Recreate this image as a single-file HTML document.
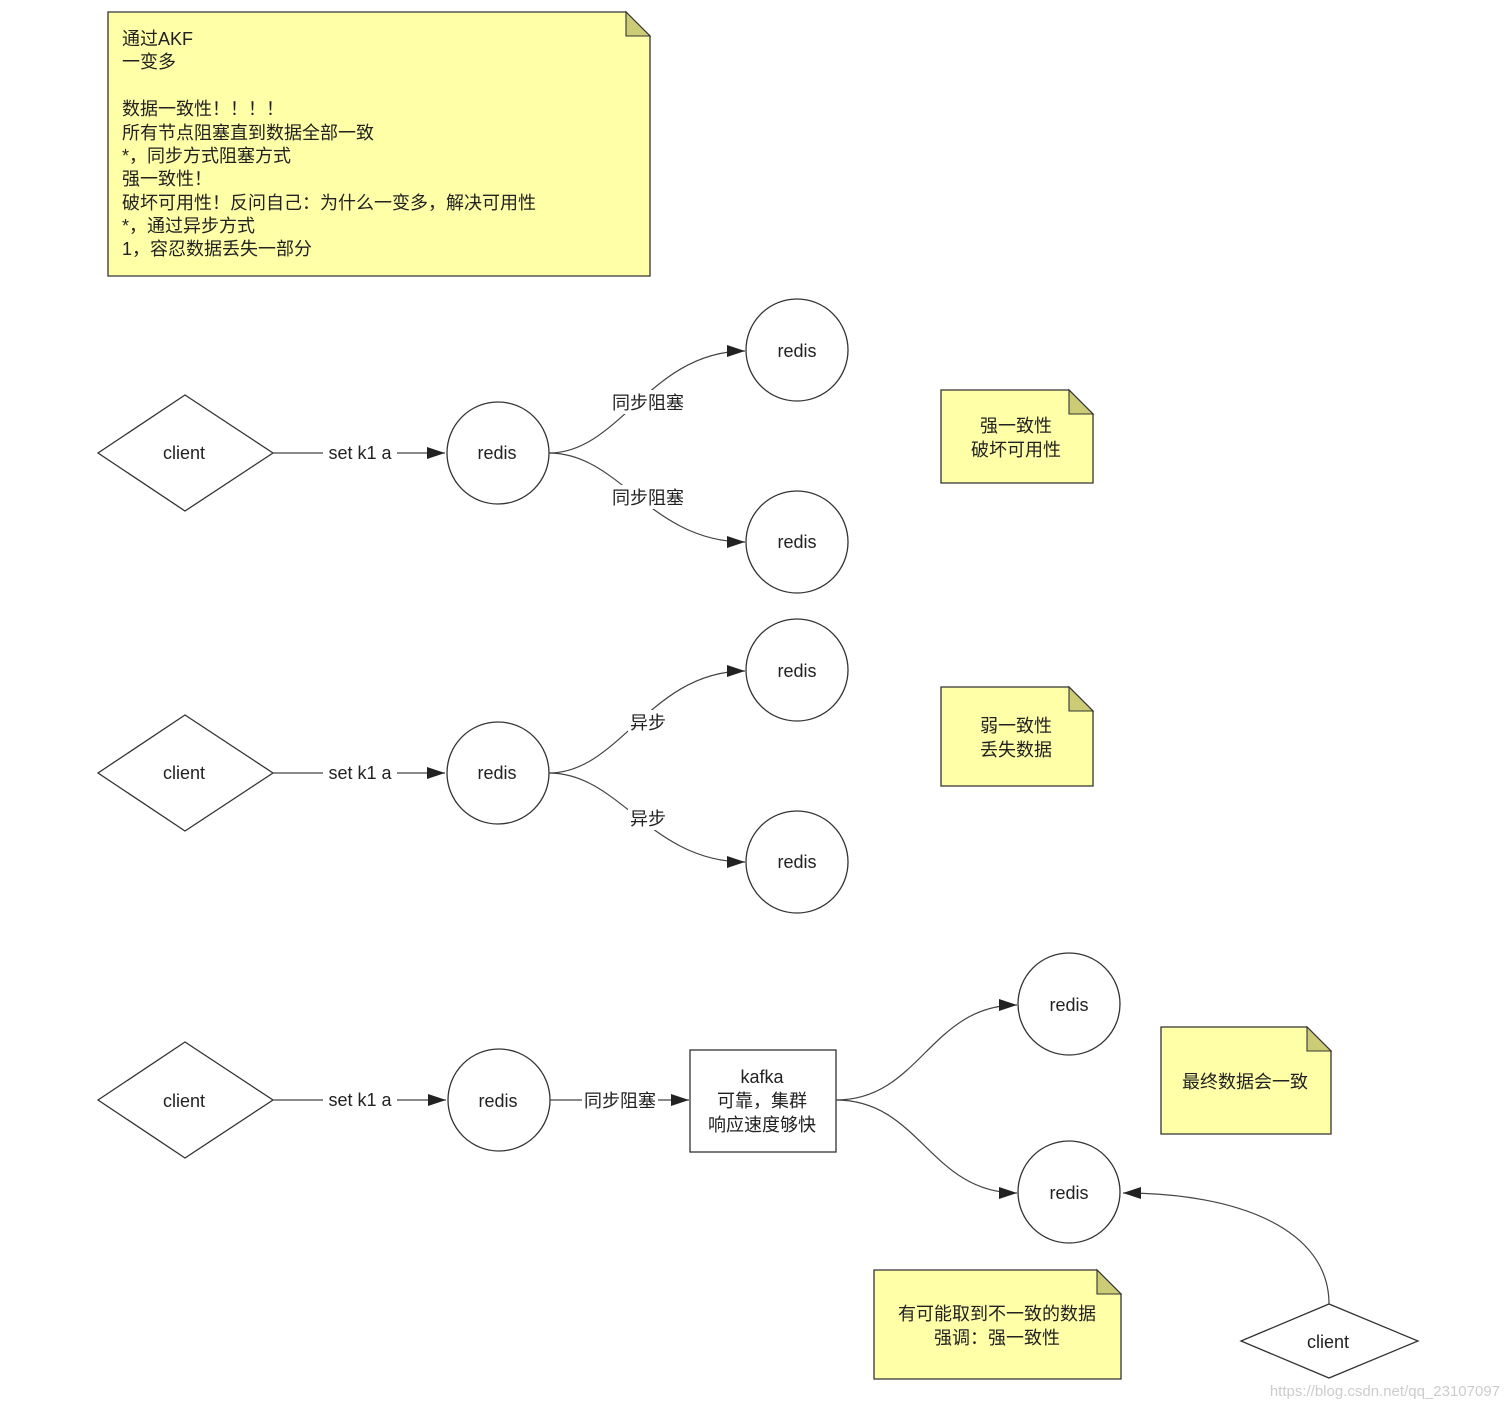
<!DOCTYPE html>
<html><head><meta charset="utf-8"><style>
html,body{margin:0;padding:0;background:#fff;}
svg{display:block;font-family:"Liberation Sans","Noto Sans CJK SC",sans-serif;}
</style></head><body>
<svg width="1509" height="1409" viewBox="0 0 1509 1409" xmlns="http://www.w3.org/2000/svg">
<defs>
<marker id="a" markerWidth="20" markerHeight="12" refX="18" refY="6" orient="auto" markerUnits="userSpaceOnUse">
<path d="M0,0 L18,6 L0,12 Z" fill="#222"/></marker>
</defs>
<g stroke="#333" stroke-width="1.3" fill="#ffffa8">
<path d="M108,12 H626 L650,36 V276 H108 Z"/>
<path d="M941,390 H1069 L1093,414 V483 H941 Z"/>
<path d="M941,687 H1069 L1093,711 V786 H941 Z"/>
<path d="M1161,1027 H1307 L1331,1051 V1134 H1161 Z"/>
<path d="M874,1270 H1097 L1121,1294 V1379 H874 Z"/>
</g>
<g fill="#cccc77" stroke="#333" stroke-width="1.1">
<path d="M626,12 V36 H650 Z"/><path d="M1069,390 V414 H1093 Z"/><path d="M1069,687 V711 H1093 Z"/>
<path d="M1307,1027 V1051 H1331 Z"/><path d="M1097,1270 V1294 H1121 Z"/>
</g>
<g font-size="18" fill="#222">
<text x="122" y="45">通过AKF</text><text x="122" y="68">一变多</text>
<text x="122" y="115">数据一致性！！！！</text><text x="122" y="139">所有节点阻塞直到数据全部一致</text>
<text x="122" y="162">*，同步方式阻塞方式</text><text x="122" y="185">强一致性！</text>
<text x="122" y="209">破坏可用性！反问自己：为什么一变多，解决可用性</text>
<text x="122" y="232">*，通过异步方式</text><text x="122" y="255">1，容忍数据丢失一部分</text>
</g>
<g font-size="18" fill="#222" text-anchor="middle">
<text x="1016" y="432">强一致性</text><text x="1016" y="456">破坏可用性</text>
<text x="1016" y="732">弱一致性</text><text x="1016" y="756">丢失数据</text>
<text x="1245" y="1088">最终数据会一致</text>
<text x="997" y="1320">有可能取到不一致的数据</text><text x="997" y="1344">强调：强一致性</text>
</g>
<g fill="#fff" stroke="#333" stroke-width="1.3">
<path d="M98,453 L185,395 L273,453 L185,511 Z"/>
<path d="M98,773 L185,715 L273,773 L185,831 Z"/>
<path d="M98,1100 L185,1042 L273,1100 L185,1158 Z"/>
<path d="M1241,1341 L1329,1304 L1418,1341 L1329,1378 Z"/>
<ellipse cx="498" cy="453" rx="51" ry="51"/><ellipse cx="797" cy="350" rx="51" ry="51"/><ellipse cx="797" cy="542" rx="51" ry="51"/>
<ellipse cx="498" cy="773" rx="51" ry="51"/><ellipse cx="797" cy="670" rx="51" ry="51"/><ellipse cx="797" cy="862" rx="51" ry="51"/>
<ellipse cx="499" cy="1100" rx="51" ry="51"/><ellipse cx="1069" cy="1004" rx="51" ry="51"/><ellipse cx="1069" cy="1192" rx="51" ry="51"/>
<rect x="690" y="1050" width="146" height="102"/>
</g>
<g fill="none" stroke="#444" stroke-width="1.2">
<path d="M273,453 H445" marker-end="url(#a)"/>
<path d="M549,453 C620,453 650,351 745,351" marker-end="url(#a)"/>
<path d="M549,453 C620,453 650,542 745,542" marker-end="url(#a)"/>
<path d="M273,773 H445" marker-end="url(#a)"/>
<path d="M549,773 C620,773 650,671 745,671" marker-end="url(#a)"/>
<path d="M549,773 C620,773 650,862 745,862" marker-end="url(#a)"/>
<path d="M273,1100 H446" marker-end="url(#a)"/>
<path d="M550,1100 H689" marker-end="url(#a)"/>
<path d="M836,1100 C920,1100 930,1005 1017,1005" marker-end="url(#a)"/>
<path d="M836,1100 C920,1100 930,1193 1017,1193" marker-end="url(#a)"/>
<path d="M1329,1304 C1329,1230 1240,1193 1123,1193" marker-end="url(#a)"/>
</g>
<g font-size="18" fill="#222" text-anchor="middle">
<rect x="323" y="441" width="74" height="24" fill="#fff"/><text x="360" y="459">set k1 a</text>
<rect x="323" y="761" width="74" height="24" fill="#fff"/><text x="360" y="779">set k1 a</text>
<rect x="323" y="1088" width="74" height="24" fill="#fff"/><text x="360" y="1106">set k1 a</text>
<rect x="610" y="390" width="76" height="24" fill="#fff"/><text x="648" y="409">同步阻塞</text>
<rect x="610" y="485" width="76" height="24" fill="#fff"/><text x="648" y="504">同步阻塞</text>
<rect x="628" y="710" width="40" height="24" fill="#fff"/><text x="648" y="729">异步</text>
<rect x="628" y="806" width="40" height="24" fill="#fff"/><text x="648" y="825">异步</text>
<rect x="582" y="1088" width="76" height="24" fill="#fff"/><text x="620" y="1107">同步阻塞</text>
<text x="184" y="459">client</text><text x="184" y="779">client</text><text x="184" y="1107">client</text><text x="1328" y="1348">client</text>
<text x="497" y="459">redis</text><text x="797" y="357">redis</text><text x="797" y="548">redis</text>
<text x="497" y="779">redis</text><text x="797" y="677">redis</text><text x="797" y="868">redis</text>
<text x="498" y="1107">redis</text><text x="1069" y="1011">redis</text><text x="1069" y="1199">redis</text>
<text x="762" y="1083">kafka</text><text x="762" y="1107">可靠，集群</text><text x="762" y="1131">响应速度够快</text>
</g>
<text x="1500" y="1396" font-size="15" fill="#ccc" text-anchor="end">https://blog.csdn.net/qq_23107097</text>
</svg>
</body></html>
